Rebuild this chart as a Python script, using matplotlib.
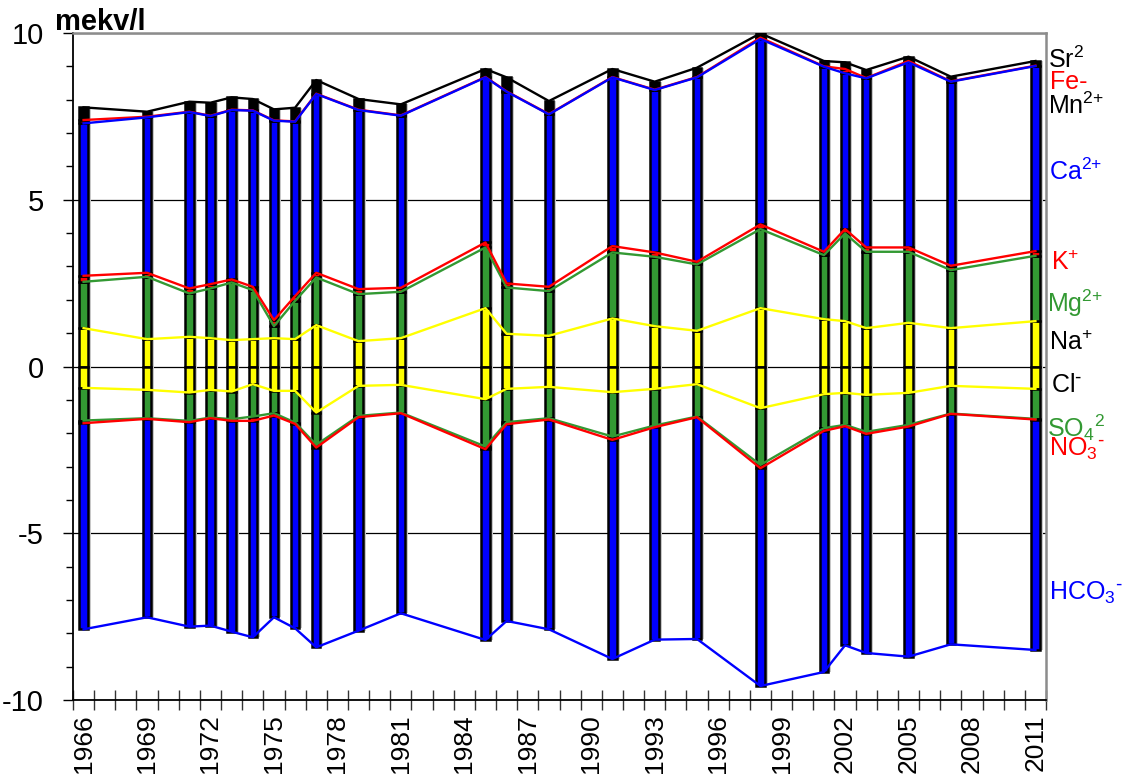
import numpy as np
import matplotlib
matplotlib.use('Agg')
import matplotlib.pyplot as plt
from matplotlib.ticker import FixedLocator, MultipleLocator

plt.rcParams['font.family'] = ['Liberation Sans Narrow', 'Liberation Sans', 'DejaVu Sans']
plt.rcParams['mathtext.default'] = 'regular'
plt.rcParams['axes.unicode_minus'] = False

# sampling years
years = [1966, 1969, 1971, 1972, 1973, 1974, 1975, 1976, 1977, 1979, 1981, 1985,
         1986, 1988, 1991, 1993, 1995, 1998, 2001, 2002, 2003, 2005, 2007, 2011]

# cations (mekv/l), stacked upwards from 0
na = [1.15, 0.82, 0.89, 0.85, 0.79, 0.82, 0.85, 0.82, 1.24, 0.76, 0.85, 1.75,
      0.98, 0.92, 1.44, 1.21, 1.07, 1.75, 1.42, 1.36, 1.15, 1.31, 1.15, 1.36]
mg = [1.39, 1.87, 1.30, 1.49, 1.73, 1.47, 0.36, 1.15, 1.43, 1.41, 1.39, 1.82,
      1.39, 1.34, 1.98, 2.08, 1.99, 2.37, 1.92, 2.63, 2.29, 2.13, 1.74, 1.96]
k = [0.18, 0.12, 0.15, 0.13, 0.09, 0.10, 0.18, 0.14, 0.14, 0.15, 0.12, 0.15,
     0.12, 0.13, 0.19, 0.13, 0.08, 0.14, 0.10, 0.13, 0.13, 0.13, 0.13, 0.14]
ca = [4.57, 4.66, 5.29, 5.04, 5.08, 5.28, 5.98, 5.23, 5.36, 5.37, 5.16, 4.95,
      5.75, 5.17, 5.06, 4.87, 5.53, 5.56, 5.55, 4.67, 5.07, 5.55, 5.52, 5.55]
fe = [0.10, 0.02, 0.01, 0.01, 0.01, 0.01, 0.01, 0.01, 0.01, 0.01, 0.01, 0.01,
      0.01, 0.01, 0.01, 0.01, 0.01, 0.04, 0.01, 0.13, 0.01, 0.04, 0.01, 0.01]
sr = [0.38, 0.15, 0.30, 0.39, 0.37, 0.34, 0.33, 0.41, 0.41, 0.32, 0.33, 0.24,
      0.42, 0.39, 0.24, 0.24, 0.28, 0.13, 0.16, 0.20, 0.24, 0.13, 0.14, 0.14]

# anions (mekv/l), stacked downwards from 0
cl = [0.64, 0.70, 0.78, 0.70, 0.75, 0.53, 0.73, 0.73, 1.38, 0.58, 0.55, 0.98,
      0.67, 0.61, 0.77, 0.67, 0.53, 1.25, 0.83, 0.79, 0.85, 0.79, 0.58, 0.67]
so4 = [0.98, 0.85, 0.85, 0.83, 0.83, 0.97, 0.67, 0.95, 0.97, 0.90, 0.83, 1.42,
       1.00, 0.94, 1.33, 1.10, 0.97, 1.70, 1.02, 0.96, 1.11, 0.96, 0.83, 0.90]
no3 = [0.08, 0.02, 0.04, 0.02, 0.05, 0.13, 0.07, 0.04, 0.08, 0.04, 0.02, 0.08,
       0.06, 0.04, 0.10, 0.05, 0.02, 0.10, 0.08, 0.04, 0.06, 0.05, 0.01, 0.02]
hco3 = [6.18, 5.95, 6.13, 6.22, 6.32, 6.49, 6.05, 6.13, 5.99, 6.40, 6.00, 5.72,
        5.90, 6.29, 6.57, 6.37, 6.65, 6.53, 7.23, 6.57, 6.57, 6.90, 6.91, 6.91]

label_years = [1966, 1969, 1972, 1975, 1978, 1981, 1984, 1987,
               1990, 1993, 1996, 1999, 2002, 2005, 2008, 2011]

YELLOW = '#ffff00'
GREEN = '#339933'
RED = '#ff0000'
BLUE = '#0000ff'

fig = plt.figure(figsize=(11.26, 7.74), dpi=100)
ax = fig.add_axes([73 / 1126, 1 - 700 / 774, 973 / 1126, 667 / 774])

x = np.array(years) - years[0]
width = 0.4

cations = [(na, YELLOW, 4), (mg, GREEN, 4), (k, RED, 4.2), (ca, BLUE, 5), (fe, RED, 4.1), (sr, 'black', 4)]
anions = [(cl, YELLOW, 4), (so4, GREEN, 4), (no3, RED, 4.2), (hco3, BLUE, 5)]

top_total = np.sum([np.array(v) for v, c, z in cations], axis=0)
bot_total = -np.sum([np.array(v) for v, c, z in anions], axis=0)
# light shadow to the right of each column
ax.bar(x + 0.14, top_total - bot_total, width, bottom=bot_total,
       color='#c8c8c8', zorder=2)

base = np.zeros(len(x))
for vals, col, z in cations:
    vals = np.array(vals)
    ax.bar(x, vals, width, bottom=base, color=col, edgecolor='black', linewidth=1.8, zorder=3)
    base = base + vals
    ax.plot(x, base, color=col, linewidth=1.7, zorder=z)

base = np.zeros(len(x))
for vals, col, z in anions:
    vals = -np.array(vals)
    ax.bar(x, vals, width, bottom=base, color=col, edgecolor='black', linewidth=1.8, zorder=3)
    base = base + vals
    ax.plot(x, base, color=col, linewidth=1.7, zorder=z)

ax.set_xlim(-0.5, 2011 - years[0] + 0.5)
ax.set_ylim(-10, 10)

ax.xaxis.set_major_locator(FixedLocator([y - years[0] for y in label_years]))
ax.set_xticklabels([str(y) for y in label_years], rotation=90, fontsize=19)
ax.xaxis.set_minor_locator(MultipleLocator(1, offset=0.5))
ax.tick_params(axis='x', which='major', length=0, pad=10)
ax.tick_params(axis='x', which='minor', length=14, direction='inout', color='#333333', width=1)

ax.yaxis.set_major_locator(MultipleLocator(5))
ax.yaxis.set_minor_locator(MultipleLocator(1))
ax.tick_params(axis='y', which='major', length=7, width=1, pad=14, labelsize=21)
ax.tick_params(axis='y', which='minor', length=5, width=1)
ax.yaxis.grid(True, which='major', color='black', linewidth=0.9, zorder=1)
ax.set_axisbelow(True)

for side in ['top', 'right']:
    ax.spines[side].set_color('#8c8c8c')
    ax.spines[side].set_linewidth(1.8)
for side in ['left', 'bottom']:
    ax.spines[side].set_linewidth(1.3)

fig.text(55 / 1126, 1 - 30 / 774, 'mekv/l', fontsize=21, fontweight='bold',
         va='baseline', ha='left', family=['Liberation Sans', 'DejaVu Sans'])

# ion labels to the right of the plot
ion_labels = [
    ('Sr$^2$', 'black', 1048, 60),
    ('Fe-', RED, 1050, 82),
    ('Mn$^{2{+}}$', 'black', 1048, 106),
    ('Ca$^{2{+}}$', BLUE, 1049, 172),
    ('K$^{+}$', RED, 1051, 263),
    ('Mg$^{2{+}}$', GREEN, 1047, 303),
    ('Na$^{+}$', 'black', 1049, 343),
    ('Cl$^{\\text{-}}$', 'black', 1051, 385),
    ('SO$_4$$^2$', GREEN, 1047, 428),
    ('NO$_3$$^{\\text{-}}$', RED, 1049, 449),
    ('HCO$_3$$^{\\text{-}}$', BLUE, 1049, 593),
]
for txt, col, px, py in ion_labels:
    fig.text(px / 1126, 1 - py / 774, txt, color=col, fontsize=18,
             ha='left', va='center')

fig.savefig('out.png', dpi=100)
